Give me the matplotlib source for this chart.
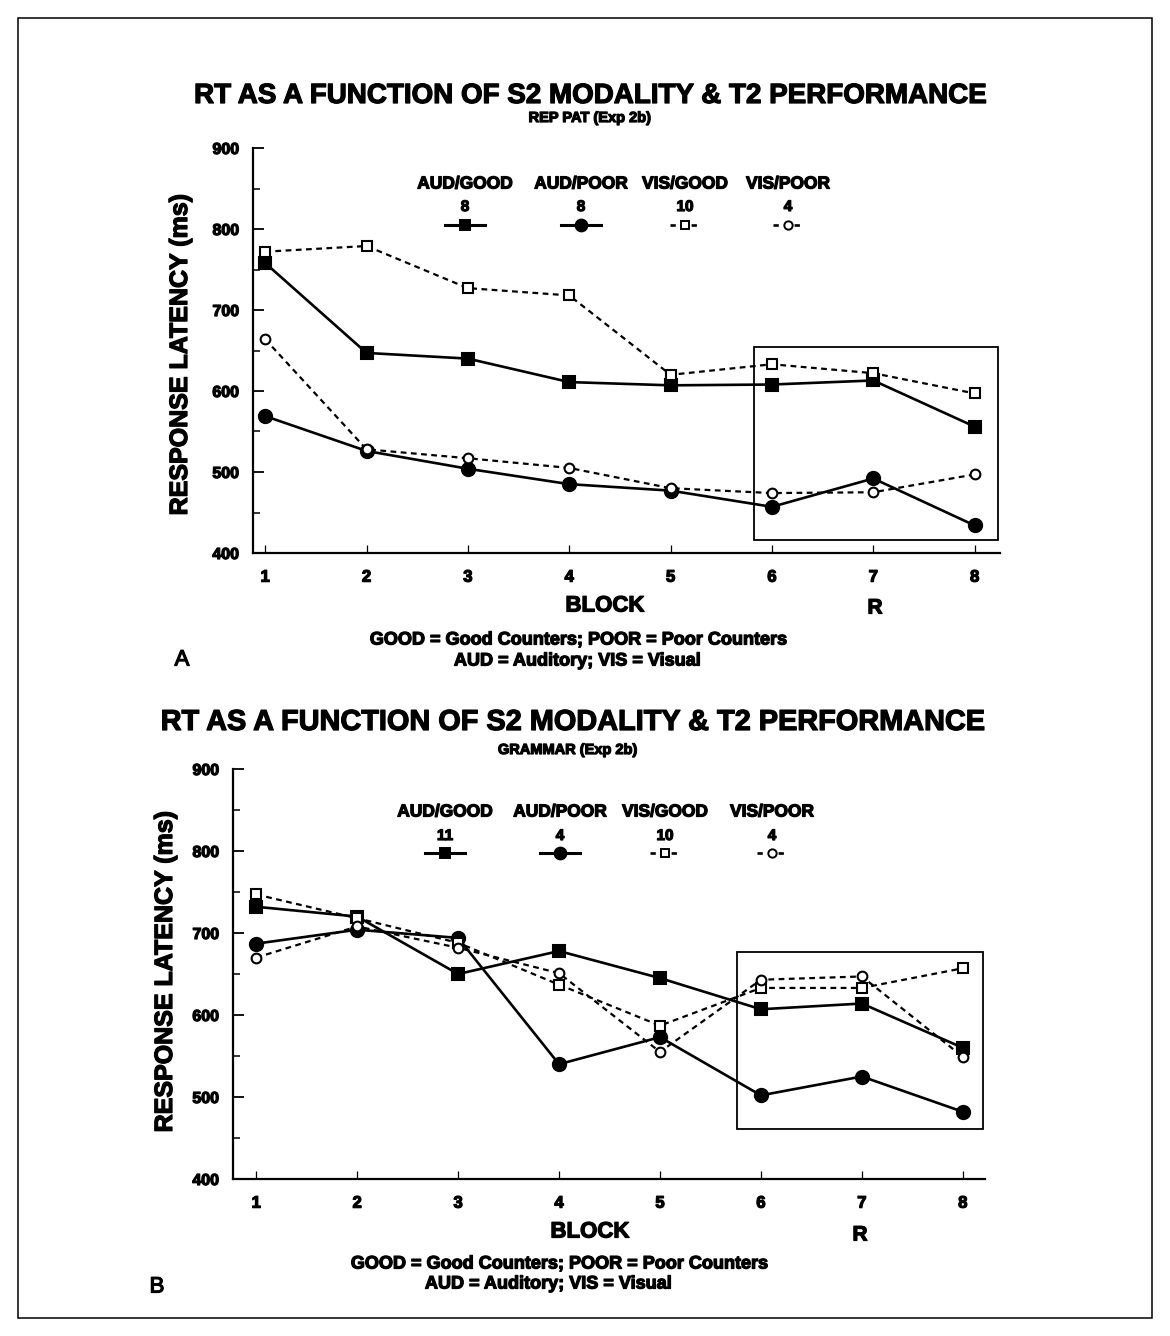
import matplotlib
matplotlib.use("Agg")
import matplotlib.pyplot as plt
import matplotlib.patheffects as pe
from matplotlib.patches import Rectangle
from matplotlib.ticker import MultipleLocator

plt.rcParams['font.family'] = ['Liberation Sans', 'DejaVu Sans']

# ---- data -------------------------------------------------------------
blocks = [1, 2, 3, 4, 5, 6, 7, 8]
block_labels = ['1', '2', '3', '4', '5', '6', '7', '8']
groups = ['AUD/GOOD', 'AUD/POOR', 'VIS/GOOD', 'VIS/POOR']

# Panel A: REP PAT (Exp 2b)
a_aud_good = [758, 647, 640, 611, 607, 608, 613, 556]
a_aud_poor = [569, 526, 504, 485, 477, 457, 492, 434]
a_vis_good = [772, 779, 727, 718, 620, 633, 622, 597]
a_vis_poor = [664, 528, 517, 505, 480, 474, 475, 497]
a_n = ['8', '8', '10', '4']

# Panel B: GRAMMAR (Exp 2b)
b_aud_good = [732, 720, 650, 678, 645, 607, 614, 560]
b_aud_poor = [687, 704, 694, 540, 573, 502, 525, 482]
b_vis_good = [747, 718, 688, 637, 587, 633, 633, 657]
b_vis_poor = [670, 708, 682, 651, 555, 643, 647, 549]
b_n = ['11', '4', '10', '4']

W, H = 1170, 1336
fig = plt.figure(figsize=(W / 100, H / 100), dpi=100)
fig.patch.set_facecolor('white')

heavy = [pe.withStroke(linewidth=0.9, foreground='black')]


def fx(px):
    return px / W


def fy(py):
    return 1 - py / H


def ftext(x, y, s, size, **kw):
    kw.setdefault('ha', 'center')
    kw.setdefault('va', 'center')
    kw.setdefault('fontweight', 'bold')
    return fig.text(fx(x), fy(y), s, fontsize=size, path_effects=heavy, **kw)


# series styles
styles = [
    dict(marker='s', ms=8.5, mfc='black', mec='black', lw=1.9, dashes=None),
    dict(marker='o', ms=9.5, mfc='black', mec='black', lw=1.9, dashes=None),
    dict(marker='s', ms=7, mfc='white', mec='black', lw=1.6, dashes=(2.6, 2.0)),
    dict(marker='o', ms=7, mfc='white', mec='black', lw=1.6, dashes=(2.6, 2.0)),
]


def draw_panel(rect, series, xlim, box):
    ax = fig.add_axes(rect)
    for i in [2, 3, 0, 1]:
        st = styles[i]
        kw = dict(color='black', marker=st['marker'], markersize=st['ms'],
                  markerfacecolor=st['mfc'], markeredgecolor=st['mec'],
                  markeredgewidth=1.5, linewidth=st['lw'], zorder=3 + i)
        if st['dashes']:
            kw['dashes'] = st['dashes']
        ax.plot(blocks, series[i], **kw)
    ax.set_xlim(*xlim)
    ax.set_ylim(400, 900)
    ax.set_xticks(blocks)
    ax.set_xticklabels(block_labels)
    ax.yaxis.set_major_locator(MultipleLocator(100))
    ax.yaxis.set_minor_locator(MultipleLocator(50))
    for side in ('top', 'right'):
        ax.spines[side].set_visible(False)
    for side in ('left', 'bottom'):
        ax.spines[side].set_linewidth(1.6)
    ax.tick_params(axis='y', which='major', direction='in', length=8, width=1.3,
                   labelsize=11.5, pad=10)
    ax.tick_params(axis='y', which='minor', direction='in', length=5, width=1.1)
    ax.tick_params(axis='x', which='major', direction='in', length=6, width=0.9,
                   labelsize=12, pad=12)
    for lab in ax.get_xticklabels() + ax.get_yticklabels():
        lab.set_fontweight('bold')
        lab.set_path_effects(heavy)
    ax.add_patch(Rectangle((box[0], box[1]), box[2] - box[0], box[3] - box[1],
                           fill=False, edgecolor='black', linewidth=1.3,
                           zorder=2, clip_on=False))
    ax.set_facecolor('none')
    return ax


def draw_key(xs_px, y_head, y_num, y_sym, ns):
    for i, (xc, g, n) in enumerate(zip(xs_px, groups, ns)):
        st = styles[i]
        ftext(xc, y_head, g, 12.5)
        ftext(xc, y_num, n, 11)
        half = 20 if st['dashes'] is None else 15
        kw = dict(color='black', linewidth=st['lw'] + 0.3)
        if st['dashes']:
            kw['dashes'] = (2.0, 2.0)
        fig.add_artist(plt.Line2D([fx(xc - half), fx(xc + half)], [fy(y_sym), fy(y_sym)],
                                  transform=fig.transFigure, **kw))
        fig.add_artist(plt.Line2D([fx(xc)], [fy(y_sym)], transform=fig.transFigure,
                                  marker=st['marker'], markersize=st['ms'] - 1,
                                  markerfacecolor=st['mfc'], markeredgecolor='black',
                                  markeredgewidth=1.4, linestyle='none'))


# ---- panel A ----------------------------------------------------------
draw_panel([fx(253), fy(553), (1000 - 253) / W, (553 - 148) / H],
           [a_aud_good, a_aud_poor, a_vis_good, a_vis_poor],
           (0.88, 8.25), (5.82, 416, 8.23, 654))
ftext(590, 96, 'RT AS A FUNCTION OF S2 MODALITY & T2 PERFORMANCE', 20)
ftext(590, 118, 'REP PAT (Exp 2b)', 10.5)
ftext(180, 355, 'RESPONSE LATENCY (ms)', 18, rotation=90)
draw_key([465, 581, 685, 788], 184, 207, 225, a_n)
ftext(605, 606, 'BLOCK', 16)
ftext(875, 608, 'R', 15)
ftext(578, 640, 'GOOD = Good Counters; POOR = Poor Counters', 13)
ftext(577, 661, 'AUD = Auditory; VIS = Visual', 13)
ftext(182, 660, 'A', 16, fontweight='normal')

# ---- panel B ----------------------------------------------------------
draw_panel([fx(233), fy(1179), (985 - 233) / W, (1179 - 769) / H],
           [b_aud_good, b_aud_poor, b_vis_good, b_vis_poor],
           (0.77, 8.22), (5.76, 461, 8.2, 677))
ftext(572, 722, 'RT AS A FUNCTION OF S2 MODALITY & T2 PERFORMANCE', 20.8)
ftext(568, 750, 'GRAMMAR (Exp 2b)', 10.5)
ftext(165, 972, 'RESPONSE LATENCY (ms)', 18, rotation=90)
draw_key([445, 560, 665, 772], 812, 836, 853, b_n)
ftext(590, 1232, 'BLOCK', 16)
ftext(860, 1235, 'R', 15)
ftext(559, 1264, 'GOOD = Good Counters; POOR = Poor Counters', 13)
ftext(548, 1284, 'AUD = Auditory; VIS = Visual', 13)
ftext(157, 1287, 'B', 16, fontweight='normal')

# page frame
fig.add_artist(Rectangle((fx(18), fy(1318)), fx(1152) - fx(18), fy(18) - fy(1318),
                         transform=fig.transFigure, fill=False,
                         edgecolor='black', linewidth=1.1))

fig.savefig('out.png', dpi=100, facecolor='white')
